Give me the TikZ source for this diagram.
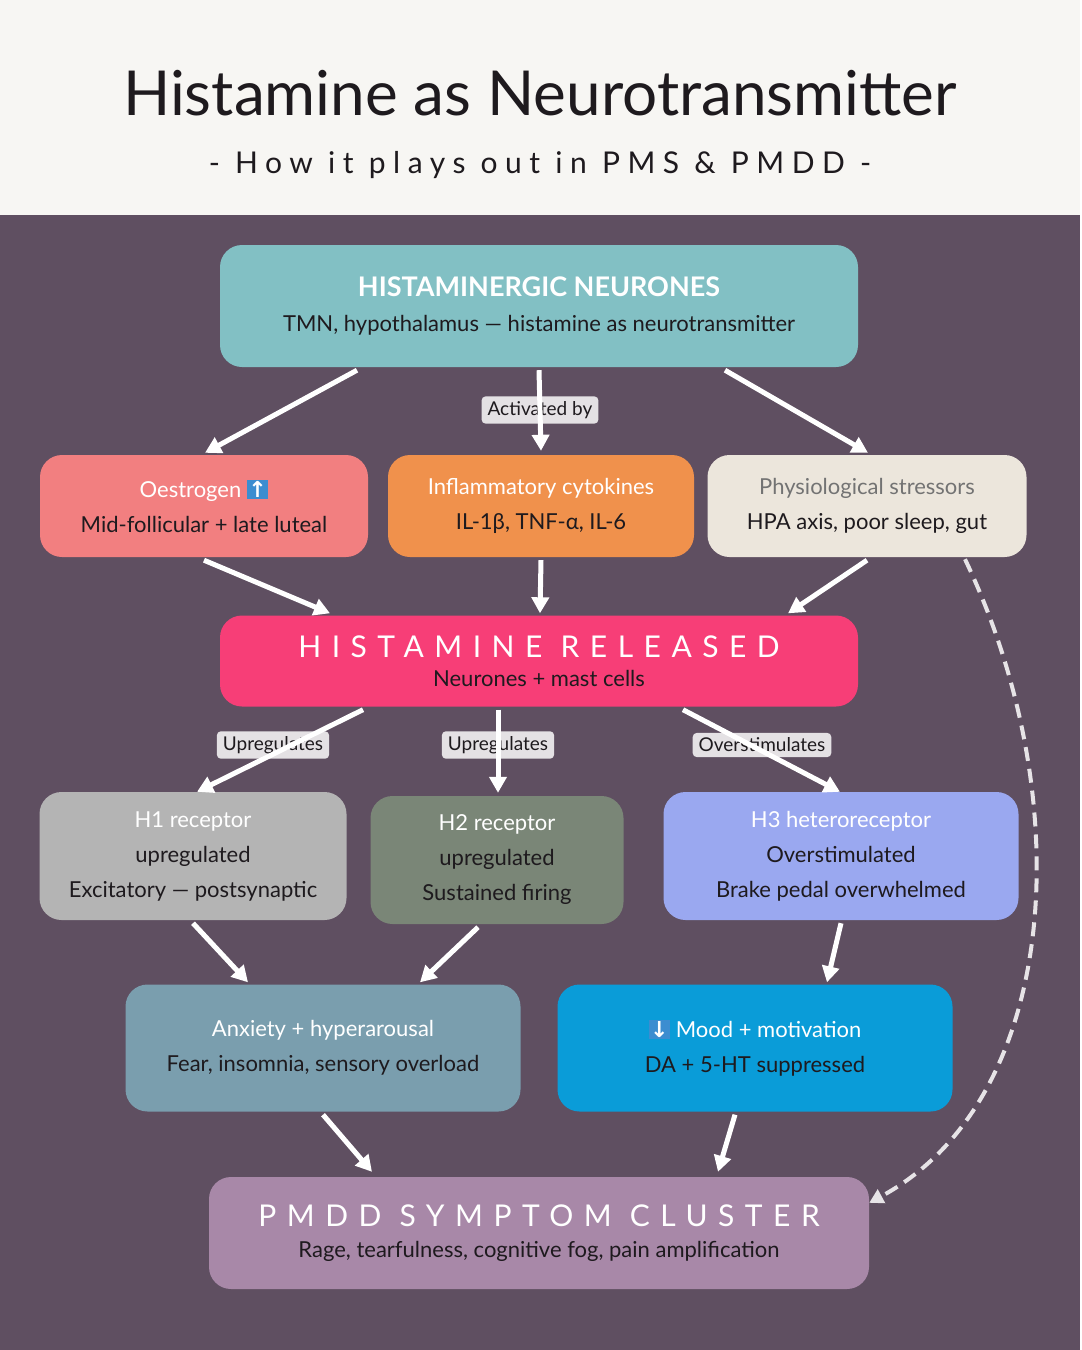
\documentclass[tikz,border=0pt]{standalone}
\usepackage{fontspec}
\setmainfont{Lato}
\newfontfamily\dejavu{DejaVu Sans}
\usetikzlibrary{arrows.meta,positioning}
\definecolor{bgdark}{HTML}{5F4F61}
\definecolor{bglight}{HTML}{F7F6F3}
\definecolor{neurteal}{HTML}{82C0C4}
\definecolor{oestred}{HTML}{F27F80}
\definecolor{cytorange}{HTML}{F0914C}
\definecolor{stresscream}{HTML}{ECE6DC}
\definecolor{histpink}{HTML}{F73E77}
\definecolor{hone}{HTML}{B4B4B4}
\definecolor{htwo}{HTML}{7A8677}
\definecolor{hthree}{HTML}{9AA8F0}
\definecolor{anxblue}{HTML}{7A9EAE}
\definecolor{moodblue}{HTML}{0A9CD8}
\definecolor{pmddmauve}{HTML}{A888A8}
\definecolor{labelgrey}{HTML}{E4E1E4}
\definecolor{inktxt}{HTML}{1E1A1E}
\definecolor{icoblue}{HTML}{3C8DD0}
\newcommand{\icon}[1]{{\fboxsep=1.5pt\colorbox{icoblue}{\color{white}\dejavu\bfseries #1}}}

\begin{document}
\begin{tikzpicture}[x=1pt,y=-1pt,
  box/.style={rounded corners=22pt,minimum height=#1,align=center,
    text=inktxt,font=\fontsize{22}{35}\selectfont,inner sep=0pt},
  box/.default=102pt,
  tag/.style={fill=labelgrey,rounded corners=4pt,text=inktxt,
    font=\fontsize{19}{22}\selectfont,inner xsep=6pt,inner ysep=5pt},
  flow/.style={-{Triangle[length=16pt,width=17pt]},white,line width=5pt}]

 % backgrounds
 \fill[bglight] (0,0) rectangle (1080,215);
 \fill[bgdark] (0,215) rectangle (1080,1350);
 \node (title) at (540,93) {\fontsize{62}{70}\selectfont\color{inktxt}Histamine as Neurotransmitter};
 \node (subtitle) at (540,165) {\fontsize{30}{34}\selectfont\addfontfeatures{LetterSpace=25}\color{inktxt}- How it plays out in PMS \& PMDD -};

 % boxes
 \node[box=122pt,fill=neurteal,minimum width=638pt] (neur) at (539,306)
   {{\color{white}\bfseries\fontsize{27}{30}\selectfont HISTAMINERGIC NEURONES}\\TMN, hypothalamus --- histamine as neurotransmitter};
 \node[box,fill=oestred,minimum width=328pt] (oest) at (204,506)
   {{\color{white}Oestrogen} \icon{↑}\\Mid-follicular + late luteal};
 \node[box,fill=cytorange,minimum width=306pt] (cyto) at (541,506)
   {{\color{white}Inflammatory cytokines}\\IL-1β, TNF-α, IL-6};
 \node[box,fill=stresscream,minimum width=319pt] (stress) at (867,506)
   {{\color{gray!90!black}Physiological stressors}\\HPA axis, poor sleep, gut};
 \node[box=91pt,fill=histpink,minimum width=638pt] (hist) at (539,661)
   {{\color{white}\fontsize{30}{32}\selectfont\addfontfeatures{LetterSpace=35}HISTAMINE RELEASED}\\[-6pt]Neurones + mast cells};
 \node[box=128pt,fill=hone,minimum width=307pt] (hone) at (193,856)
   {{\color{white}H1 receptor}\\upregulated\\Excitatory --- postsynaptic};
 \node[box=128pt,fill=htwo,minimum width=253pt] (htwo) at (497,860)
   {{\color{white}H2 receptor}\\upregulated\\Sustained firing};
 \node[box=128pt,fill=hthree,minimum width=355pt] (hthree) at (841,856)
   {{\color{white}H3 heteroreceptor}\\Overstimulated\\Brake pedal overwhelmed};
 \node[box=127pt,fill=anxblue,minimum width=395pt] (anx) at (323,1048)
   {{\color{white}Anxiety + hyperarousal}\\Fear, insomnia, sensory overload};
 \node[box=127pt,fill=moodblue,minimum width=395pt] (mood) at (755,1048)
   {{\color{white}\icon{↓} Mood + motivation}\\DA + 5-HT suppressed};
 \node[box=112pt,fill=pmddmauve,minimum width=660pt] (pmdd) at (539,1233)
   {{\color{white}\fontsize{30}{32}\selectfont\addfontfeatures{LetterSpace=35}PMDD SYMPTOM CLUSTER}\\[-4pt]Rage, tearfulness, cognitive fog, pain amplification};

 % edge labels
 \node[tag] (act) at (540,410) {Activated by};
 \node[tag] (upone) at (273,745) {Upregulates};
 \node[tag] (uptwo) at (498,745) {Upregulates};
 \node[tag] (over) at (762,745) {Overstimulates};

 % arrows
 \draw[flow] ([xshift=-182pt,yshift=-3pt]neur.south) -- ([xshift=1pt,yshift=2pt]oest.north);
 \draw[flow] ([yshift=-3pt]neur.south) -- ([yshift=4pt]cyto.north);
 \draw[flow] ([xshift=186pt,yshift=-3pt]neur.south) -- ([xshift=1pt,yshift=2pt]stress.north);
 \draw[flow] ([yshift=-3pt]oest.south) -- ([xshift=-209pt,yshift=2pt]hist.north);
 \draw[flow] ([yshift=-3pt]cyto.south) -- ([xshift=1pt,yshift=2pt]hist.north);
 \draw[flow] ([yshift=-3pt]stress.south) -- ([xshift=249pt,yshift=2pt]hist.north);
 \draw[flow] ([xshift=-176pt,yshift=-3pt]hist.south) -- ([xshift=4pt,yshift=0pt]hone.north);
 \draw[flow] ([xshift=-41pt,yshift=-3pt]hist.south) -- ([xshift=1pt,yshift=3pt]htwo.north);
 \draw[flow] ([xshift=144pt,yshift=-3pt]hist.south) -- ([xshift=-1pt,yshift=0pt]hthree.north);
 \draw[flow] ([yshift=-3pt]hone.south) -- ([xshift=-75pt,yshift=2pt]anx.north);
 \draw[flow] ([xshift=-19pt,yshift=-3pt]htwo.south) -- ([xshift=97pt,yshift=2pt]anx.north);
 \draw[flow] ([yshift=-3pt]hthree.south) -- ([xshift=72pt,yshift=2pt]mood.north);
 \draw[flow] ([yshift=-3pt]anx.south) -- ([xshift=-167pt,yshift=5pt]pmdd.north);
 \draw[flow] ([xshift=-20pt,yshift=-3pt]mood.south) -- ([xshift=179pt,yshift=5pt]pmdd.north);
 \draw[-{Triangle[length=14pt,width=15pt]},white!85!bgdark,line width=4pt,dash pattern=on 14pt off 8pt]
   ([xshift=98pt,yshift=-2pt]stress.south) .. controls (1080,800) and (1060,1100) .. ([yshift=-26pt]pmdd.north east);
\end{tikzpicture}
\end{document}
